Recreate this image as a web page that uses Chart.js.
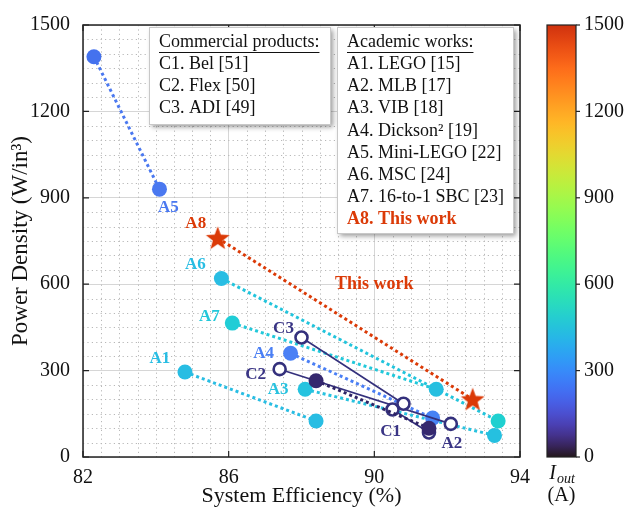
<!DOCTYPE html>
<html><head><meta charset="utf-8">
<script src="https://cdn.jsdelivr.net/npm/chart.js@4/dist/chart.umd.min.js"></script>
<style>html,body{margin:0;padding:0;background:#fff;}#wrap{width:626px;height:510px;}</style>
</head><body><div id="wrap"><canvas id="c" width="626" height="510"></canvas></div>
<script>
// ---------- data ----------
const xTicks = [82, 86, 90, 94];
const yTicks = [0, 300, 600, 900, 1200, 1500];
const cbTicks = [0, 300, 600, 900, 1200, 1500];
const seriesNames = ['A1','A2','A3','A4','A5','A6','A7','A8','C1','C2','C3'];
const effA1 = [84.8, 88.4];  const pdA1 = [295, 125];
const effA2 = [88.4, 91.5];  const pdA2 = [265, 100];
const effA3 = [88.1, 93.3];  const pdA3 = [235, 75];
const effA4 = [87.7, 91.6];  const pdA4 = [360, 135];
const effA5 = [82.3, 84.1];  const pdA5 = [1390, 930];
const effA6 = [85.8, 93.4];  const pdA6 = [620, 125];
const effA7 = [86.1, 91.7];  const pdA7 = [465, 235];
const effA8 = [85.7, 92.7];  const pdA8 = [760, 200];
const effC1 = [90.5, 91.5];  const pdC1 = [165, 85];
const effC2 = [87.4, 92.1];  const pdC2 = [305, 115];
const effC3 = [88.0, 90.8];  const pdC3 = [415, 185];
const commercialLines = ['C1. Bel [51]', 'C2. Flex [50]', 'C3. ADI [49]'];
const academicLines = ['A1. LEGO [15]','A2. MLB [17]','A3. VIB [18]','A4. Dickson\u00B2 [19]','A5. Mini-LEGO [22]','A6. MSC [24]','A7. 16-to-1 SBC [23]','A8. This work'];
const thisWorkNote = {x: 90.0, y: 600, text: 'This work'};

// ---------- styles ----------
const SERIF = '"Liberation Serif", "DejaVu Serif", serif';
const NAVY = '#34307c';
const lineColors = {A1:'#28bde3',A2:'#2e2466',A3:'#28c2df',A4:'#4a7ff5',A5:'#4a78f0',A6:'#22c4dc',A7:'#22c8da',A8:'#db3a07',C1:NAVY,C2:NAVY,C3:NAVY};
const pointColors = {A1:['#28bde3','#28bde3'],A2:['#35286e','#35286e'],A3:['#26c3df','#25c0e0'],A4:['#4a80f5','#4682f5'],A5:['#4472ee','#4a78f0'],A6:['#29bde3','#1fd0d0'],A7:['#20cdd6','#26bfe0'],A8:['#db3a07','#db3a07']};
const labelColors = {A1:'#28bde3',A2:'#3a3585',A3:'#28c2df',A4:'#4a7ff5',A5:'#4a78f0',A6:'#28bde3',A7:'#22c8da',A8:'#db3a07',C1:'#3a3585',C2:'#3a3585',C3:'#3a3585'};
// label anchor: which point and pixel offset
const labelPlace = {A1:[0,-25,-13],A2:[1,23,15],A3:[0,-27,0],A4:[0,-27,0],A5:[1,9,18],A6:[0,-26,-14],A7:[0,-23,-6],A8:[0,-22,-15],C1:[0,-2,22],C2:[0,-24,5],C3:[0,-18,-9]};
const drawOrder = {A1:9,A2:1,A3:8,A4:7,A5:6,A6:5,A7:4,A8:0,C1:2,C2:3,C3:2};

const series = {A1:[effA1,pdA1],A2:[effA2,pdA2],A3:[effA3,pdA3],A4:[effA4,pdA4],A5:[effA5,pdA5],A6:[effA6,pdA6],A7:[effA7,pdA7],A8:[effA8,pdA8],C1:[effC1,pdC1],C2:[effC2,pdC2],C3:[effC3,pdC3]};

// star image
const star = document.createElement('canvas');
star.width = 26; star.height = 26;
(function(){
  const g = star.getContext('2d'); g.fillStyle = '#db3a07'; g.beginPath();
  const cx=13, cy=13.8, R=12.5, r=5.2;
  for (let i=0;i<10;i++){ const a=-Math.PI/2+i*Math.PI/5; const rr=i%2?r:R; const px=cx+rr*Math.cos(a), py=cy+rr*Math.sin(a); i?g.lineTo(px,py):g.moveTo(px,py); }
  g.closePath(); g.fill();
})();

const datasets = seriesNames.map(n => {
  const [ex, py] = series[n];
  const isC = n[0] === 'C';
  const d = {
    label: n,
    data: ex.map((v,i)=>({x:v, y:py[i]})),
    showLine: true,
    borderColor: lineColors[n],
    borderWidth: isC ? 1.6 : 3,
    borderDash: isC ? [] : [3,3],
    pointRadius: isC ? 6 : 7.5,
    pointHoverRadius: isC ? 6 : 7.5,
    pointBorderWidth: isC ? 2.6 : 0,
    pointBorderColor: isC ? NAVY : (pointColors[n] || []),
    pointBackgroundColor: isC ? '#fff' : pointColors[n],
    order: drawOrder[n]
  };
  if (n === 'A8') { d.pointStyle = star; }
  return d;
});

// turbo colormap polynomial
function turbo(t){
  t = Math.max(0, Math.min(1, t));
  const v4=[1,t,t*t,t*t*t], v2=[t**4,t**5];
  const R4=[0.13572138,4.61539260,-42.66032258,132.13108234], G4=[0.09140261,2.19418839,4.84296658,-14.18503333], B4=[0.10667330,12.64194608,-60.58204836,110.36276771];
  const R2=[-152.94239396,59.28637943], G2=[4.27729857,2.82956604], B2=[-89.90310912,27.34824973];
  const dot=(a,b)=>a.reduce((s,x,i)=>s+x*b[i],0);
  const c = [dot(v4,R4)+dot(v2,R2), dot(v4,G4)+dot(v2,G2), dot(v4,B4)+dot(v2,B2)].map(x=>Math.round(255*Math.max(0,Math.min(1,x))));
  return `rgb(${c[0]},${c[1]},${c[2]})`;
}

const deco = {
  id: 'deco',
  beforeDatasetsDraw(chart){
    const {ctx, chartArea:a, scales:{x, y}} = chart;
    ctx.save();
    ctx.strokeStyle = '#b8b8b8'; ctx.lineWidth = 1; ctx.setLineDash([1.2,3.2]);
    for (let v = 82; v <= 94.001; v += 0.5) {
      if (xTicks.some(t=>Math.abs(t-v)<1e-6)) continue;
      const px = Math.round(x.getPixelForValue(v))+0.5;
      ctx.beginPath(); ctx.moveTo(px, a.top); ctx.lineTo(px, a.bottom); ctx.stroke();
    }
    for (let v = 0; v <= 1500.001; v += 50) {
      if (yTicks.some(t=>Math.abs(t-v)<1e-6)) continue;
      const py = Math.round(y.getPixelForValue(v))+0.5;
      ctx.beginPath(); ctx.moveTo(a.left, py); ctx.lineTo(a.right, py); ctx.stroke();
    }
    ctx.restore();
  },
  afterDatasetsDraw(chart){
    const {ctx, chartArea:a, scales:{x, y}} = chart;
    ctx.save();
    // frame
    ctx.strokeStyle = '#222'; ctx.lineWidth = 1.5; ctx.setLineDash([]);
    ctx.strokeRect(a.left, a.top, a.right-a.left, a.bottom-a.top);
    // inner ticks
    ctx.lineWidth = 1.2;
    xTicks.forEach(v=>{ const px=x.getPixelForValue(v); ctx.beginPath(); ctx.moveTo(px,a.bottom); ctx.lineTo(px,a.bottom-6); ctx.moveTo(px,a.top); ctx.lineTo(px,a.top+6); ctx.stroke(); });
    yTicks.forEach(v=>{ const py=y.getPixelForValue(v); ctx.beginPath(); ctx.moveTo(a.left,py); ctx.lineTo(a.left+6,py); ctx.moveTo(a.right,py); ctx.lineTo(a.right-6,py); ctx.stroke(); });
    // point labels
    ctx.font = 'bold 17px ' + SERIF; ctx.textAlign = 'center'; ctx.textBaseline = 'middle';
    seriesNames.forEach(n=>{
      const [i, dx, dy] = labelPlace[n];
      const [ex, py] = series[n];
      ctx.fillStyle = labelColors[n];
      ctx.fillText(n, x.getPixelForValue(ex[i])+dx, y.getPixelForValue(py[i])+dy);
    });
    ctx.fillStyle = '#db3a07';
    ctx.font = 'bold 18px ' + SERIF;
    ctx.fillText(thisWorkNote.text, x.getPixelForValue(thisWorkNote.x), y.getPixelForValue(thisWorkNote.y));
    // legend boxes
    function box(bx, by, bw, bh){
      ctx.save();
      ctx.shadowColor = 'rgba(0,0,0,0.4)'; ctx.shadowBlur = 5; ctx.shadowOffsetX = 3; ctx.shadowOffsetY = 3;
      ctx.fillStyle = '#fff'; ctx.fillRect(bx, by, bw, bh);
      ctx.restore();
      ctx.strokeStyle = '#c8c8c8'; ctx.lineWidth = 1; ctx.strokeRect(bx+0.5, by+0.5, bw, bh);
    }
    function lines(tx, ty, header, items, lastBold){
      ctx.textAlign = 'left'; ctx.textBaseline = 'middle';
      ctx.font = '18px ' + SERIF; ctx.fillStyle = '#111';
      ctx.fillText(header, tx, ty);
      const w = ctx.measureText(header).width;
      ctx.strokeStyle = '#111'; ctx.lineWidth = 1;
      ctx.beginPath(); ctx.moveTo(tx, ty+10.5); ctx.lineTo(tx+w, ty+10.5); ctx.stroke();
      items.forEach((t, k)=>{
        if (lastBold && k === items.length-1) { ctx.font = 'bold 18px ' + SERIF; ctx.fillStyle = '#db3a07'; }
        else { ctx.font = '18px ' + SERIF; ctx.fillStyle = '#111'; }
        ctx.fillText(t, tx, ty + 22.2*(k+1));
      });
    }
    box(149, 27, 181, 97);
    lines(159, 42, 'Commercial products:', commercialLines, false);
    box(337, 27, 176, 206);
    lines(347, 42, 'Academic works:', academicLines, true);
    ctx.restore();
  },
  afterDraw(chart){
    const {ctx, chartArea:a} = chart;
    const L = 547, R = 576, T = a.top, B = a.bottom;
    ctx.save();
    const g = ctx.createLinearGradient(0, B, 0, T);
    for (let k=0;k<=40;k++){ g.addColorStop(k/40, turbo(0.865*k/40)); }
    ctx.fillStyle = g; ctx.fillRect(L, T, R-L, B-T);
    ctx.strokeStyle = '#222'; ctx.lineWidth = 1.2; ctx.strokeRect(L, T, R-L, B-T);
    ctx.font = '20px ' + SERIF; ctx.fillStyle = '#111'; ctx.textAlign = 'left'; ctx.textBaseline = 'middle';
    const mx = cbTicks[cbTicks.length-1];
    cbTicks.forEach(v=>{
      const py = B - (B-T)*v/mx;
      ctx.beginPath(); ctx.moveTo(R, py); ctx.lineTo(R+4, py); ctx.stroke();
      ctx.fillText(String(v), R+8, py);
    });
    ctx.textAlign = 'left';
    ctx.font = 'italic 20px ' + SERIF;
    const wI = ctx.measureText('I').width;
    ctx.font = 'italic 14px ' + SERIF;
    const wS = ctx.measureText('out').width;
    const sx = (L+R)/2 - (wI+wS)/2;
    ctx.font = 'italic 20px ' + SERIF; ctx.fillText('I', sx, 474);
    ctx.font = 'italic 14px ' + SERIF; ctx.fillText('out', sx+wI+1, 479);
    ctx.font = '20px ' + SERIF; ctx.textAlign = 'center'; ctx.fillText('(A)', (L+R)/2, 496);
    ctx.restore();
  }
};

new Chart(document.getElementById('c'), {
  type: 'scatter',
  data: { datasets },
  options: {
    responsive: false, animation: false, devicePixelRatio: 1,
    layout: { padding: { top: 20, right: 106, left: 0, bottom: 0 } },
    plugins: { legend: { display: false }, tooltip: { enabled: false } },
    scales: {
      x: {
        type: 'linear', min: 82, max: 94,
        afterBuildTicks: s => { s.ticks = xTicks.map(v=>({value:v})); },
        afterFit: s => { s.height = 53; },
        ticks: { font: { family: SERIF, size: 20 }, color: '#111', padding: 9, maxRotation: 0, callback: v => String(v) },
        grid: { color: '#d6d6d6', lineWidth: 1, drawTicks: false },
        border: { display: false },
        title: { display: true, text: 'System Efficiency (%)', font: { family: SERIF, size: 22 }, color: '#111', padding: { top: 0, bottom: 1 } }
      },
      y: {
        type: 'linear', min: 0, max: 1500,
        afterBuildTicks: s => { s.ticks = yTicks.map(v=>({value:v})); },
        afterFit: s => { s.width = 83; },
        ticks: { font: { family: SERIF, size: 20 }, color: '#111', padding: 13, callback: v => String(v) },
        grid: { color: '#d6d6d6', lineWidth: 1, drawTicks: false },
        border: { display: false },
        title: { display: true, text: 'Power Density (W/in\u00B3)', font: { family: SERIF, size: 23 }, color: '#111', padding: { top: 7, bottom: 0 } }
      }
    }
  },
  plugins: [deco]
});
</script></body></html>
